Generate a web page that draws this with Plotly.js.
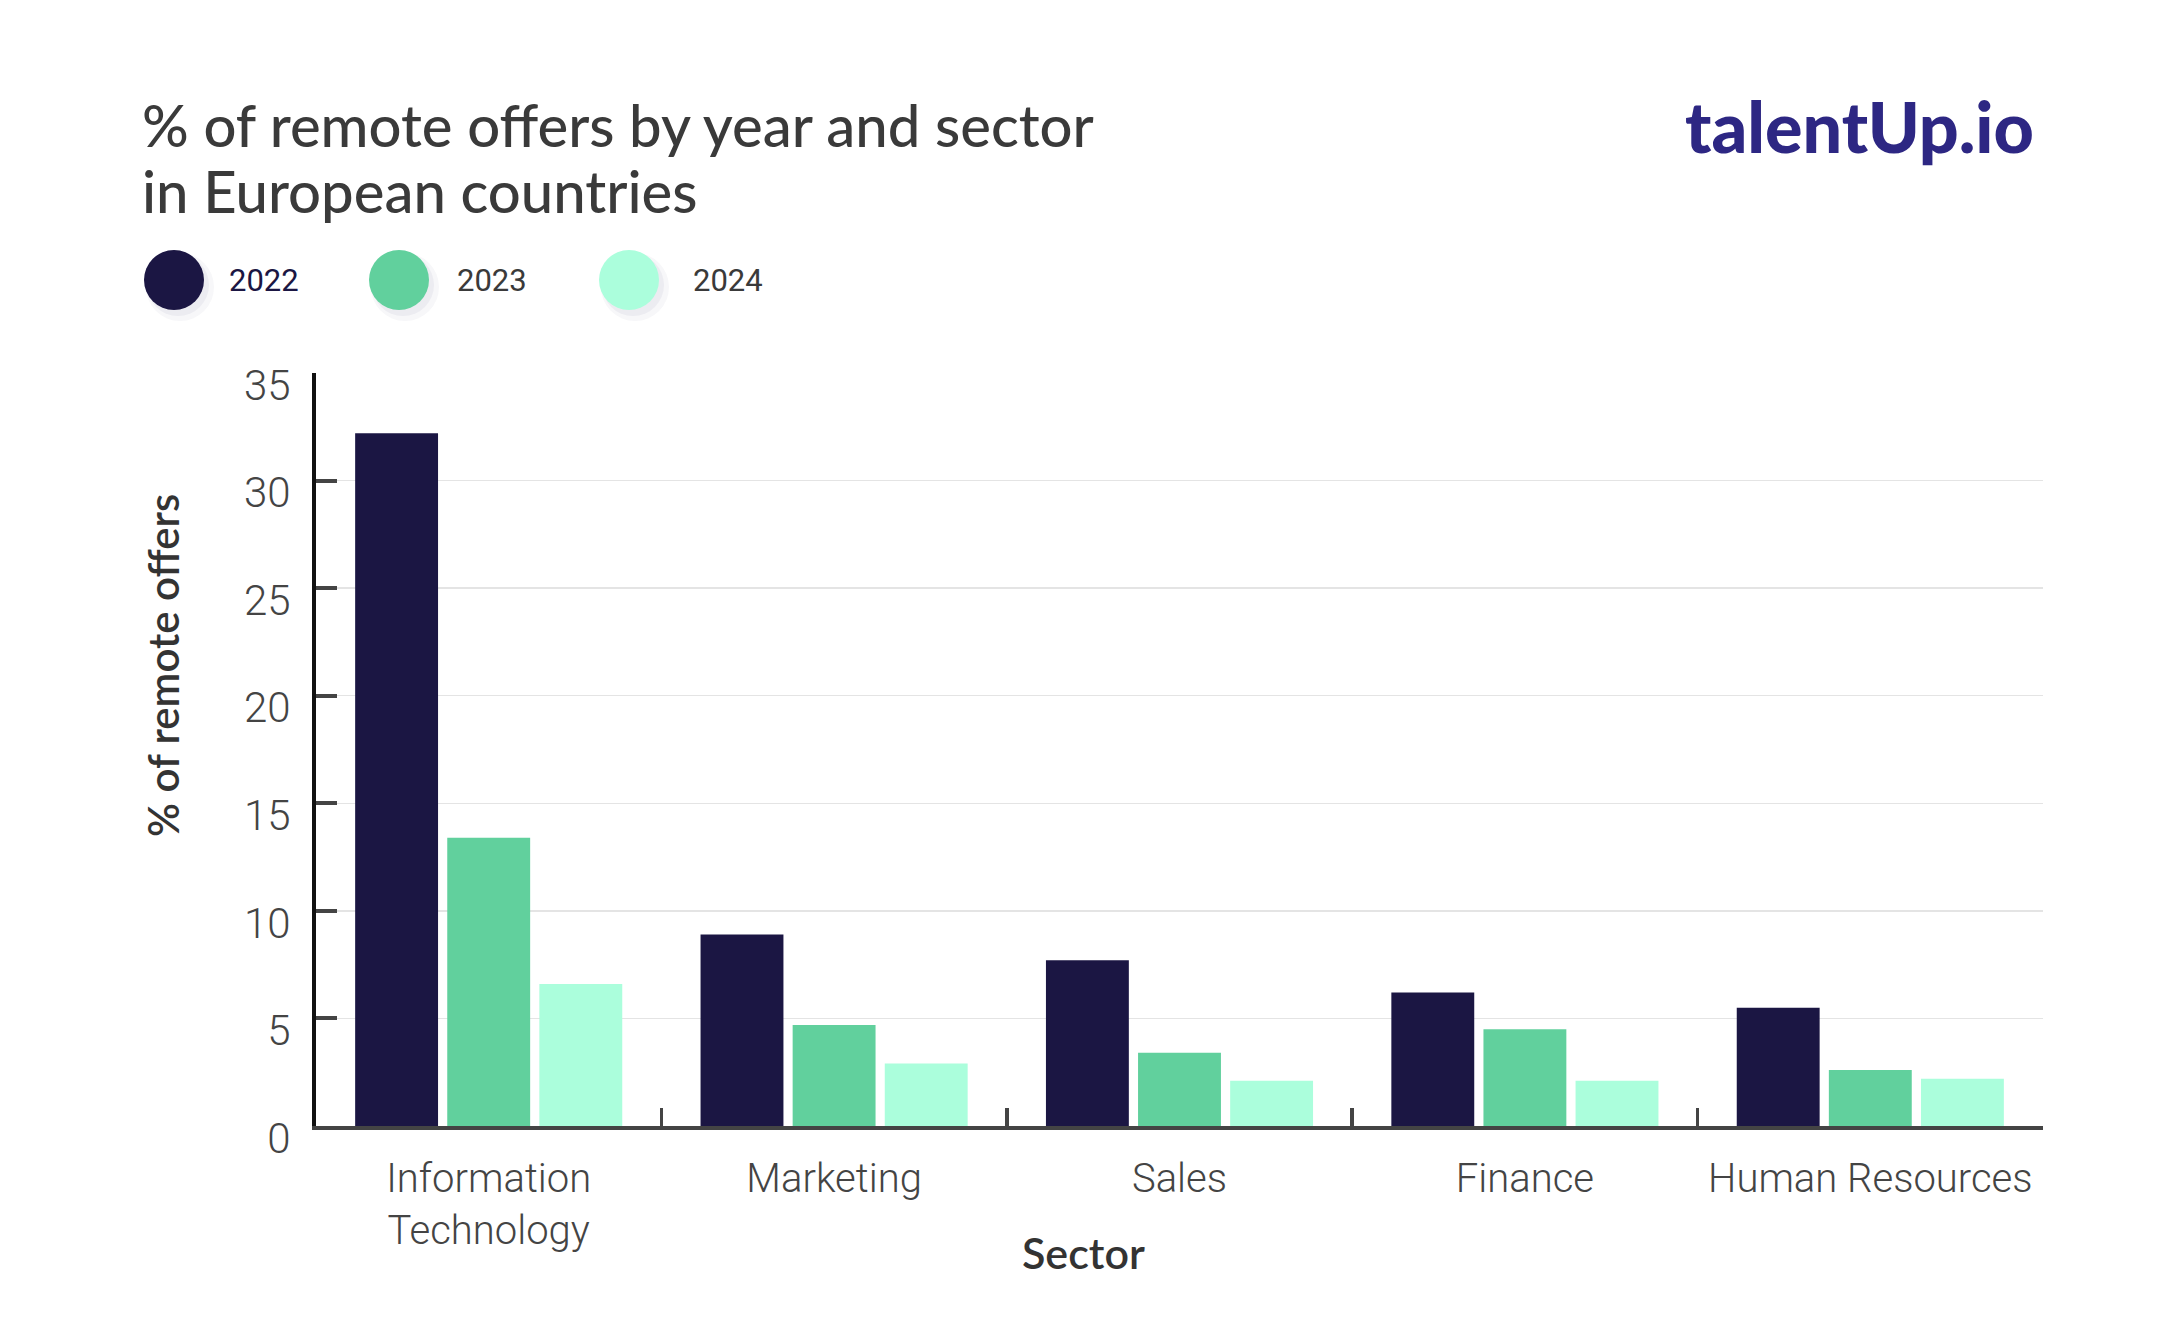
<!DOCTYPE html>
<html>
<head>
<meta charset="utf-8">
<script src="https://cdn.plot.ly/plotly-3.0.1.min.js"></script>
<style>html,body{margin:0;padding:0;background:#fff;}#chart{width:2167px;height:1333px;}</style>
</head>
<body>
<div id="chart"></div>
<script>
// ---- data ----
const sectors = ['Information<br>Technology', 'Marketing', 'Sales', 'Finance', 'Human Resources'];
const years = ['2022', '2023', '2024'];
const values2022 = [32.2, 8.9, 7.7, 6.2, 5.5];
const values2023 = [13.4, 4.7, 3.4, 4.5, 2.6];
const values2024 = [6.6, 2.9, 2.1, 2.1, 2.2];
const yTickVals = [0, 5, 10, 15, 20, 25, 30, 35];
const titleLines = ['% of remote offers by year and sector', 'in European countries'];

// ---- styles ----
const colors = ['#1b1643', '#61d09d', '#abfedc'];
const legendTextColors = ['#1b1643', '#3a3a3a', '#3a3a3a'];
const W = 2167, H = 1333, L = 316, R = 124, T = 373, B = 207;
const plotW = W - L - R, plotH = H - T - B;
const px = x => (x - L) / plotW;
const py = y => (H - B - y) / plotH;

const series = [values2022, values2023, values2024];
const traces = series.map((vals, i) => ({
  type: 'bar',
  name: years[i],
  x: sectors,
  y: vals,
  marker: {color: colors[i], line: {width: 0}},
  hoverinfo: 'skip'
}));

const legendX = [174, 399, 629];
const legendLabelX = [227, 455, 691];
const legendY = 280;
const shapes = [];
const annotations = [];
years.forEach((yr, i) => {
  const cx = legendX[i], r = 30;
  [[6, 7, 34, 0.035], [4, 5, 31, 0.05]].forEach(([dx, dy, rr, op]) => {
    shapes.push({type: 'circle', xref: 'paper', yref: 'paper',
      x0: px(cx + dx - rr), x1: px(cx + dx + rr), y0: py(legendY + dy + rr), y1: py(legendY + dy - rr),
      fillcolor: 'rgba(40,30,90,' + op + ')', line: {width: 0}, layer: 'above'});
  });
  shapes.push({type: 'circle', xref: 'paper', yref: 'paper',
    x0: px(cx - r), x1: px(cx + r), y0: py(legendY + r), y1: py(legendY - r),
    fillcolor: colors[i], line: {width: 0}, layer: 'above'});
  annotations.push({xref: 'paper', yref: 'paper', x: px(legendLabelX[i]), y: py(legendY),
    xanchor: 'left', yanchor: 'middle', showarrow: false, text: yr,
    font: {family: 'Roboto, sans-serif', size: 31, color: legendTextColors[i]}});
});

// title (two lines, positioned individually)
const titleMid = [124, 190];
titleLines.forEach((t, i) => {
  annotations.push({xref: 'paper', yref: 'paper', x: px(140), y: py(titleMid[i]), xanchor: 'left', yanchor: 'middle',
    showarrow: false, text: t, font: {family: 'Lato, sans-serif', size: 58, weight: 500, color: '#3a3a3a'}});
});

// axis titles (centred on the figure in the reference)
annotations.push({xref: 'paper', yref: 'paper', x: px(1083), y: py(1252), xanchor: 'center', yanchor: 'middle',
  showarrow: false, text: 'Sector', font: {family: 'Lato, sans-serif', size: 43, weight: 600, color: '#333333'}});
annotations.push({xref: 'paper', yref: 'paper', x: px(163), y: py(666), xanchor: 'center', yanchor: 'middle',
  showarrow: false, textangle: -90, text: '% of remote offers', font: {family: 'Lato, sans-serif', size: 42, weight: 600, color: '#333333'}});
// logo
annotations.push({xref: 'paper', yref: 'paper', x: px(2036), y: py(126), xanchor: 'right', yanchor: 'middle',
  showarrow: false, text: 'talentUp.io', font: {family: 'Lato, sans-serif', size: 70, weight: 900, color: '#2d2783'}});

const layout = {
  width: W, height: H,
  margin: {l: L, r: R, t: T, b: B, pad: 0},
  paper_bgcolor: '#ffffff', plot_bgcolor: '#ffffff',
  showlegend: false,
  barmode: 'group', bargap: 0.2, bargroupgap: 0.1,
  xaxis: {
    type: 'category',
    showline: true, linecolor: '#444444', linewidth: 4,
    ticks: 'inside', tickson: 'boundaries', ticklen: 18, tickwidth: 3.5, tickcolor: '#444444',
    showgrid: false, zeroline: false,
    ticklabelstandoff: 14,
    tickfont: {family: 'Roboto, sans-serif', size: 40, weight: 300, color: '#444444'},
    fixedrange: true
  },
  yaxis: {
    range: [0, 35], tickvals: yTickVals,
    showline: true, linecolor: '#111111', linewidth: 4,
    ticks: 'inside', ticklen: 21, tickwidth: 4, tickcolor: '#444444',
    showgrid: true, gridcolor: '#e4e4e4', gridwidth: 1.5,
    zeroline: false,
    ticklabelstandoff: 13, ticklabelshift: 12,
    tickfont: {family: 'Roboto, sans-serif', size: 42, weight: 300, color: '#444444'},
    fixedrange: true
  },
  shapes: shapes,
  annotations: annotations
};

Plotly.newPlot('chart', traces, layout, {displayModeBar: false, staticPlot: true});
</script>
</body>
</html>
